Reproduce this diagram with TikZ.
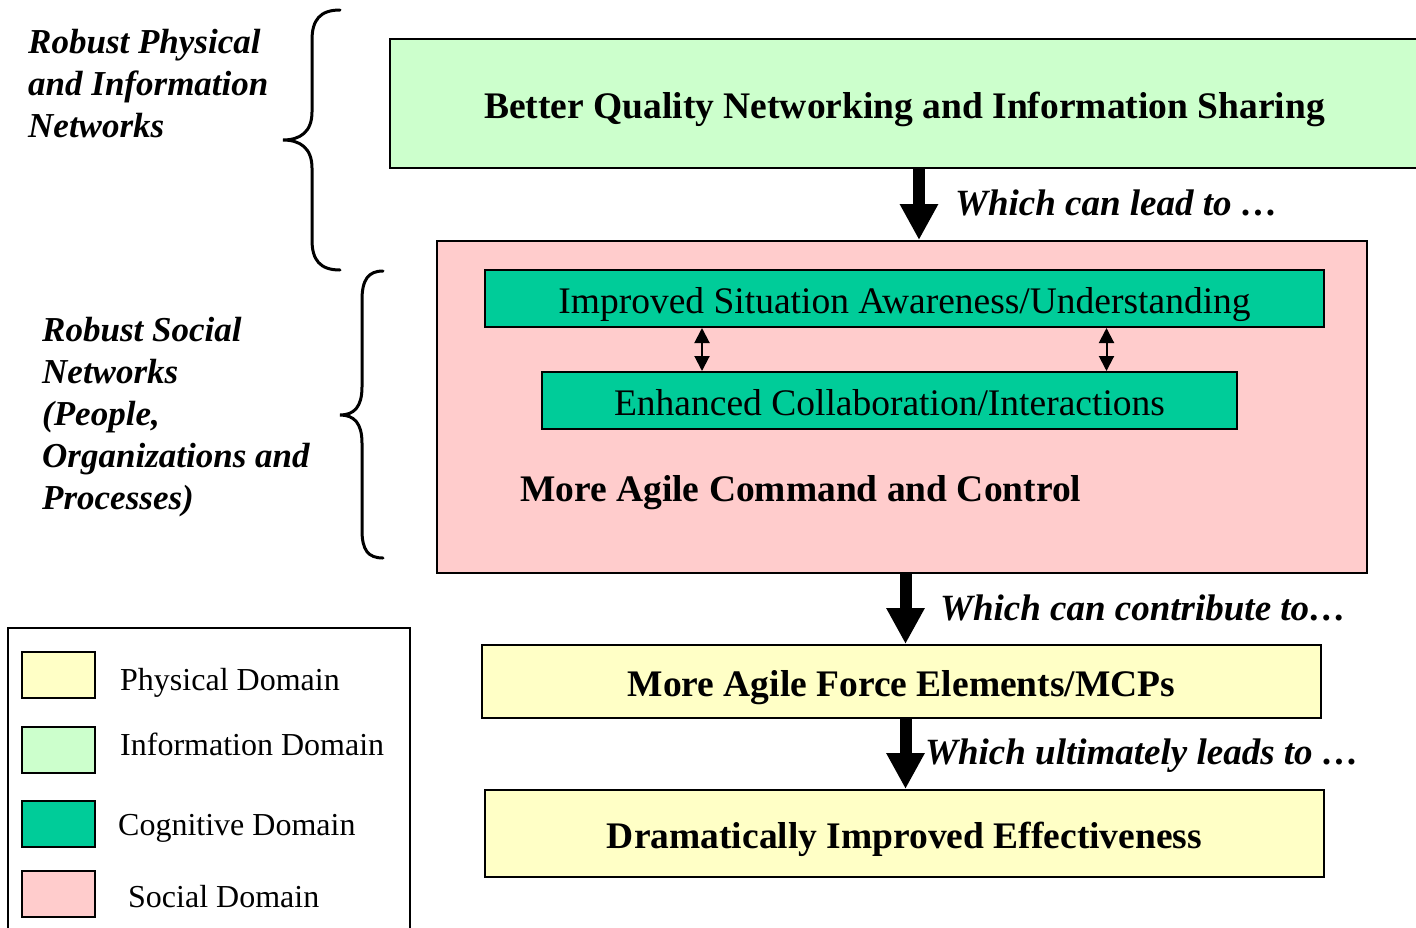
\documentclass[tikz,border=0pt]{standalone}
\usepackage{fontspec}
\setmainfont{Liberation Serif}
\usetikzlibrary{arrows.meta}

\definecolor{infogreen}{HTML}{CCFFCC}
\definecolor{socialpink}{HTML}{FFCCCC}
\definecolor{cogteal}{HTML}{00CC99}
\definecolor{physyellow}{HTML}{FFFFC6}

\tikzset{
  % caps of the text sit just below the middle of each box
  domainbox/.style={draw=black, line width=2pt, inner sep=0pt,
    font=\fontsize{37.5}{44}\selectfont, text height=29.75pt, text depth=0pt},
  boldbox/.style={domainbox, font=\fontsize{37.5}{44}\selectfont\bfseries},
  fatarrow/.style={line width=12pt, -{Triangle[width=36pt,length=36pt]}},
  linkarrow/.style={line width=2pt, {Triangle[width=15pt,length=15pt]}-{Triangle[width=15pt,length=15pt]}},
  steplabel/.style={anchor=west, inner sep=0pt, text height=24.4pt, text depth=0pt,
    font=\fontsize{37}{44}\selectfont\bfseries\itshape},
  sidelabel/.style={anchor=north west, inner sep=0pt, align=left, font=\fontsize{35}{42}\selectfont\bfseries\itshape},
  bracepath/.style={line width=3pt, line cap=round},
  swatch/.style={draw=black, line width=2pt, minimum width=73pt, minimum height=46pt, inner sep=0pt},
  legendtext/.style={anchor=west, inner sep=0pt, text height=21.1pt, text depth=0pt,
    font=\fontsize{32}{38}\selectfont},
}

\begin{document}
\begin{tikzpicture}[x=1pt, y=-1pt]
\useasboundingbox (0,0) rectangle (1416,927);

% information domain box (runs off the right edge)
\node[boldbox, fill=infogreen, minimum width=1029pt, minimum height=129pt] (info) at (904.5,103.5)
  {Better Quality Networking and Information Sharing};

% social domain box with the two cognitive boxes inside
\node[domainbox, fill=socialpink, minimum width=930pt, minimum height=332pt] (social) at (902,407) {};
\node[domainbox, fill=cogteal, minimum width=839pt, minimum height=57pt] (aware) at (904.5,298.5)
  {Improved Situation Awareness/Understanding};
\node[domainbox, fill=cogteal, minimum width=695pt, minimum height=57pt] (collab) at (889.5,400.5)
  {Enhanced Collaboration/Interactions};
\node[anchor=west, inner sep=0pt, text height=24.75pt, text depth=0pt,
  font=\fontsize{37.5}{44}\selectfont\bfseries] (c2) at (520,489)
  {More Agile Command and Control};

% physical domain boxes
\node[boldbox, fill=physyellow, minimum width=839pt, minimum height=73pt] (force) at (901.5,681.5)
  {More Agile Force Elements/MCPs};
\node[boldbox, fill=physyellow, minimum width=839pt, minimum height=87pt] (effect) at (904.5,833.5)
  {Dramatically Improved Effectiveness};

% links between the boxes
\draw[fatarrow] ([xshift=14.5pt]info.south) -- ([xshift=14.5pt]info.south |- social.north);
\draw[fatarrow] ([xshift=3.5pt]social.south) -- ([xshift=3.5pt]social.south |- force.north);
\draw[fatarrow] ([xshift=4pt]force.south) -- ([xshift=4pt]force.south |- effect.north);
\draw[linkarrow] ([xshift=-202.5pt]aware.south) -- ([xshift=-202.5pt]aware.south |- collab.north);
\draw[linkarrow] ([xshift=202pt]aware.south) -- ([xshift=202pt]aware.south |- collab.north);

\node[steplabel] (lead) at (955,203) {Which can lead to \dots};
\node[steplabel] (contrib) at (940,608) {Which can contribute to\dots};
\node[steplabel] (ultim) at (925,752) {Which ultimately leads to \dots};

% braces and their labels on the left
\draw[bracepath] (340,10) .. controls (320,10) and (312,20) .. (312,40) -- (312,112)
  .. controls (312,132) and (300,140) .. (283,140)
  .. controls (300,140) and (312,148) .. (312,168) -- (312,240)
  .. controls (312,260) and (320,270) .. (340,270);
\draw[bracepath] (383,271) .. controls (368,271) and (362,280) .. (362,300) -- (362,387)
  .. controls (362,407) and (354,415) .. (340,415)
  .. controls (354,415) and (362,423) .. (362,443) -- (362,530)
  .. controls (362,550) and (368,558) .. (383,558);

\node[sidelabel] (netlabel) at (28,29) {Robust Physical\\and Information\\Networks};
\node[sidelabel] (sociallabel) at (42,317) {Robust Social\\Networks\\(People,\\Organizations and\\Processes)};

% legend
\draw[line width=2pt] (8,935) -- (8,628) -- (410,628) -- (410,935);
\node[swatch, fill=physyellow] (lphys) at (58.5,675) {};
\node[swatch, fill=infogreen] (linfo) at (58.5,750) {};
\node[swatch, fill=cogteal] (lcog) at (58.5,823.5) {};
\node[swatch, fill=socialpink] (lsoc) at (58.5,894) {};
\node[legendtext] (tphys) at (120,680) {Physical Domain};
\node[legendtext] (tinfo) at (120,745) {Information Domain};
\node[legendtext] (tcog) at (118,825) {Cognitive Domain};
\node[legendtext] (tsoc) at (128,897) {Social Domain};
\end{tikzpicture}
\end{document}
